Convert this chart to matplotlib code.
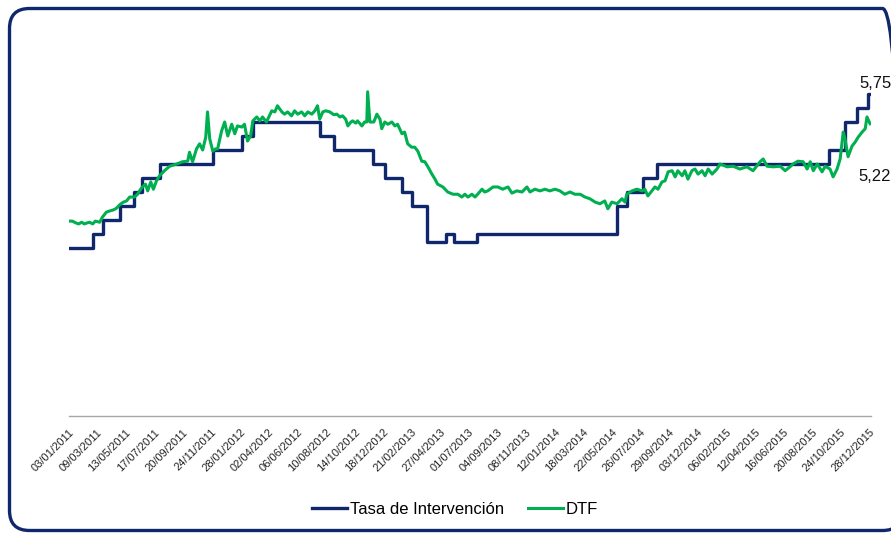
import matplotlib
matplotlib.use('Agg')
import matplotlib.pyplot as plt
from matplotlib.patches import FancyBboxPatch
from matplotlib.transforms import IdentityTransform
import pandas as pd
import numpy as np

plt.rcParams['font.family'] = ['Liberation Sans', 'DejaVu Sans']

# Tasa de intervencion (step changes, % )
tasa_fechas = ['2011-01-03', '2011-02-27', '2011-03-22', '2011-04-30', '2011-05-31',
               '2011-06-18', '2011-07-31', '2011-11-27', '2012-02-01', '2012-02-26',
               '2012-07-27', '2012-08-28', '2012-11-25', '2012-12-22', '2013-01-29',
               '2013-02-21', '2013-03-27', '2013-05-10', '2013-05-28', '2013-07-19',
               '2014-06-03', '2014-06-25', '2014-08-01', '2014-09-02', '2015-09-28',
               '2015-11-03', '2015-12-01', '2015-12-26', '2015-12-31']
tasa_valores = [3.00, 3.25, 3.50, 3.75, 4.00,
                4.25, 4.50, 4.75, 5.00, 5.25,
                5.00, 4.75, 4.50, 4.25, 4.00,
                3.75, 3.10, 3.25, 3.10, 3.25,
                3.75, 4.00, 4.25, 4.50, 4.75,
                5.25, 5.50, 5.75, 5.75]

# DTF (days since 03/01/2011, %)
dtf_dias = [0, 9, 16, 23, 30, 36, 43, 48, 55, 61, 71, 77, 86, 93, 102, 109, 116, 125, 132, 139,
            150, 157, 164, 168, 175, 180, 187, 193, 200, 207, 218, 230, 246, 259, 271, 275, 282,
            291, 298, 305, 312, 316, 321, 328, 334, 339, 348, 355, 362, 371, 378, 384, 394, 400,
            407, 414, 419, 428, 435, 441, 450, 462, 469, 475, 485, 491, 498, 507, 514, 521, 530,
            537, 544, 553, 560, 566, 571, 578, 585, 594, 603, 610, 617, 623, 630, 635, 642, 646,
            653, 657, 667, 673, 678, 680, 685, 694, 701, 708, 712, 719, 726, 735, 742, 748, 758,
            764, 771, 780, 787, 794, 803, 810, 817, 826, 833, 839, 851, 862, 874, 885, 894, 901,
            908, 917, 924, 930, 940, 946, 953, 965, 976, 987, 999, 1008, 1019, 1031, 1042, 1049,
            1060, 1072, 1083, 1094, 1106, 1117, 1128, 1140, 1151, 1163, 1174, 1185, 1197, 1208,
            1219, 1226, 1235, 1247, 1258, 1265, 1269, 1281, 1292, 1304, 1310, 1317, 1326, 1333,
            1340, 1349, 1356, 1363, 1372, 1379, 1385, 1395, 1401, 1408, 1417, 1424, 1431, 1440,
            1447, 1454, 1463, 1474, 1481, 1497, 1511, 1526, 1542, 1556, 1572, 1579, 1588, 1602,
            1618, 1629, 1640, 1647, 1658, 1670, 1679, 1686, 1693, 1702, 1713, 1720, 1731, 1738,
            1747, 1754, 1761, 1765, 1772, 1781, 1788, 1795, 1804, 1811, 1815, 1822]
dtf_valores = [3.48, 3.48, 3.45, 3.43, 3.46, 3.43, 3.45, 3.46, 3.43, 3.48, 3.46, 3.55, 3.64, 3.66,
               3.68, 3.71, 3.77, 3.82, 3.84, 3.91, 3.91, 3.96, 4.05, 4.09, 4.14, 4.02, 4.18, 4.05,
               4.20, 4.29, 4.38, 4.46, 4.50, 4.54, 4.55, 4.71, 4.54, 4.77, 4.86, 4.75, 4.98, 5.43,
               4.95, 4.73, 4.77, 4.77, 5.09, 5.25, 5.00, 5.21, 5.04, 5.18, 5.16, 5.21, 4.91, 5.00,
               5.27, 5.34, 5.27, 5.34, 5.25, 5.45, 5.43, 5.54, 5.43, 5.39, 5.43, 5.36, 5.45, 5.39,
               5.43, 5.36, 5.43, 5.39, 5.45, 5.54, 5.30, 5.43, 5.45, 5.43, 5.38, 5.39, 5.34, 5.36,
               5.30, 5.18, 5.25, 5.27, 5.23, 5.27, 5.18, 5.25, 5.25, 5.79, 5.25, 5.25, 5.39, 5.30,
               5.13, 5.25, 5.21, 5.25, 5.18, 5.21, 5.04, 5.07, 4.86, 4.80, 4.80, 4.73, 4.55, 4.54,
               4.45, 4.32, 4.23, 4.14, 4.09, 4.00, 3.96, 3.96, 3.91, 3.96, 3.91, 3.96, 3.91, 3.96,
               4.05, 4.00, 4.02, 4.09, 4.09, 4.05, 4.09, 3.98, 4.02, 4.00, 4.09, 4.00, 4.05, 4.02,
               4.05, 4.02, 4.05, 4.02, 3.96, 4.00, 3.96, 3.96, 3.91, 3.88, 3.82, 3.79, 3.84, 3.70,
               3.82, 3.79, 3.88, 3.82, 3.96, 4.02, 4.05, 4.02, 4.05, 3.93, 4.02, 4.09, 4.05, 4.18,
               4.20, 4.36, 4.38, 4.27, 4.38, 4.29, 4.38, 4.23, 4.38, 4.41, 4.32, 4.38, 4.29, 4.41,
               4.32, 4.41, 4.50, 4.45, 4.46, 4.41, 4.45, 4.38, 4.54, 4.59, 4.46, 4.45, 4.46, 4.38,
               4.45, 4.50, 4.55, 4.54, 4.41, 4.54, 4.38, 4.50, 4.36, 4.46, 4.41, 4.27, 4.41, 4.59,
               5.07, 4.95, 4.63, 4.82, 4.89, 4.98, 5.07, 5.13, 5.34, 5.22]

inicio = pd.Timestamp('2011-01-03')
fin = pd.Timestamp('2015-12-31')
tasa_x = pd.to_datetime(tasa_fechas)
dtf_x = inicio + pd.to_timedelta(dtf_dias, unit='D')
ticks = pd.date_range('2011-01-03', '2015-12-28', freq='65D')

azul = '#10286B'
verde = '#00B050'

fig = plt.figure(figsize=(8.91, 5.33), dpi=100)
ax = fig.add_axes([68.5 / 891, 1 - 416 / 533, 802 / 891, 392 / 533])

ax.step(tasa_x, tasa_valores, where='post', color=azul, lw=2.4, label='Tasa de Intervención')
ax.plot(dtf_x, dtf_valores, color=verde, lw=2.2, label='DTF')

ax.set_xlim(inicio, fin)
ax.set_ylim(0, 7)
ax.set_yticks([])
for s in ['top', 'right', 'left']:
    ax.spines[s].set_visible(False)
ax.spines['bottom'].set_color('#a6a6a6')
ax.spines['bottom'].set_linewidth(1)

ax.set_xticks(ticks)
ax.set_xticklabels([t.strftime('%d/%m/%Y') for t in ticks], rotation=45, ha='right',
                   rotation_mode='anchor', fontsize=8, color='#222222')
ax.tick_params(axis='x', length=0, pad=8)

# etiquetas de los ultimos valores
ax.annotate('5,75', xy=(tasa_x[-1], tasa_valores[-1]), xytext=(-11, 3),
            textcoords='offset pixels', ha='left', va='bottom', fontsize=12,
            color='#111111', annotation_clip=False)
ax.annotate('5,22', xy=(dtf_x[-1], dtf_valores[-1]), xytext=(-12, -53),
            textcoords='offset pixels', ha='left', va='center', fontsize=12,
            color='#111111', annotation_clip=False)

fig.legend(loc='center', bbox_to_anchor=(455 / 891, 1 - 509 / 533), ncol=2, frameon=False,
           fontsize=12, handlelength=2.1, handletextpad=0.2, columnspacing=1.4)

# marco redondeado (sale por la derecha, como en el original)
borde = FancyBboxPatch((9.5, 2.5), 893, 522, boxstyle='round,pad=0,rounding_size=20',
                       transform=IdentityTransform(), facecolor='none', edgecolor=azul, lw=2.4)
fig.add_artist(borde)

fig.savefig('out.png', dpi=100)
